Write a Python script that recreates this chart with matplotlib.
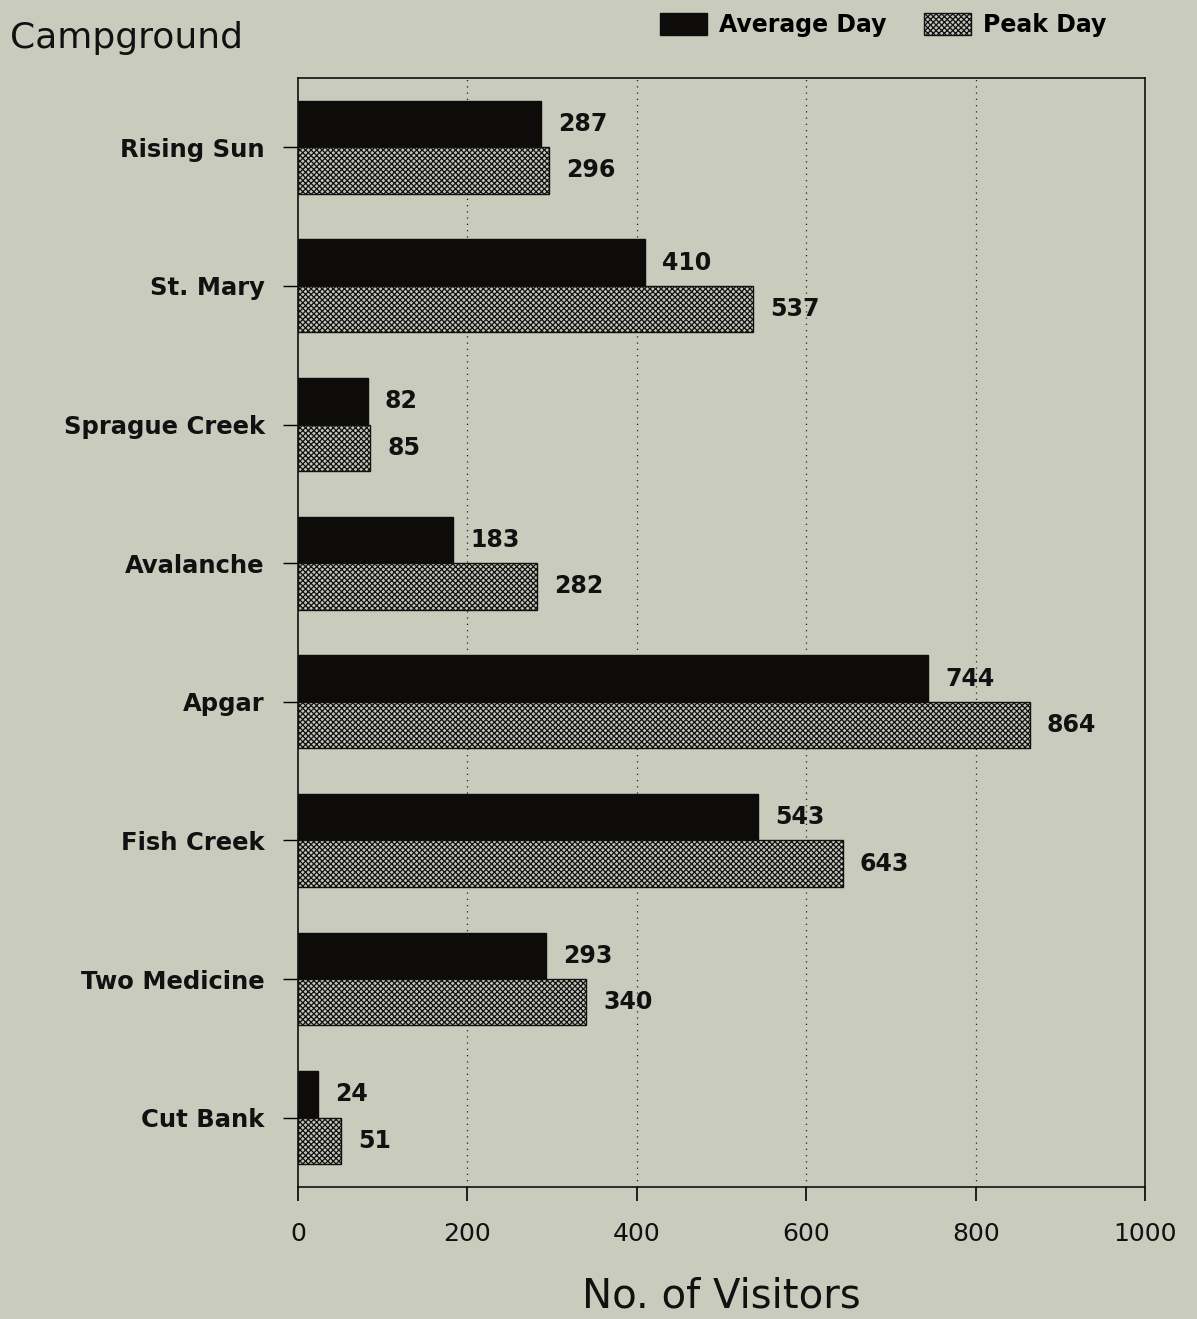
import numpy as np
import matplotlib
matplotlib.use('Agg')
import matplotlib.pyplot as plt
from matplotlib.patches import Patch

plt.rcParams['font.family'] = 'DejaVu Sans'
plt.rcParams['hatch.linewidth'] = 0.9

campgrounds = ['Rising Sun', 'St. Mary', 'Sprague Creek', 'Avalanche',
               'Apgar', 'Fish Creek', 'Two Medicine', 'Cut Bank']
average_day = [287, 410, 82, 183, 744, 543, 293, 24]
peak_day = [296, 537, 85, 282, 864, 643, 340, 51]

bg = '#c9cbbc'
fig = plt.figure(figsize=(11.97, 13.19), dpi=100, facecolor=bg)
ax = fig.add_axes([0.249, 0.1001, 0.7077, 0.8408], facecolor=bg)

y = np.arange(len(campgrounds))
h = 0.335
ax.barh(y - h / 2, average_day, height=h, color='#0d0c0a', edgecolor='#0d0c0a', lw=1)
ax.barh(y + h / 2, peak_day, height=h, color='#c4c4bc', edgecolor='#111111',
        hatch='xxxxxx', lw=1)

for i in range(len(campgrounds)):
    ax.text(average_day[i] + 20, y[i] - h / 2, str(average_day[i]), va='center', ha='left',
            fontsize=17, fontweight='bold', color='#111111')
    ax.text(peak_day[i] + 20, y[i] + h / 2, str(peak_day[i]), va='center', ha='left',
            fontsize=17, fontweight='bold', color='#111111')

ax.set_xlim(0, 1000)
ax.set_ylim(len(campgrounds) - 0.5, -0.5)
ax.set_yticks(y)
ax.set_yticklabels(campgrounds, fontsize=17.5, fontweight='bold', color='#111111')
ax.set_xticks([0, 200, 400, 600, 800, 1000])
ax.tick_params(axis='y', length=11, width=1, pad=13, direction='out')
ax.tick_params(axis='x', length=10, width=1.2, pad=15, direction='out', labelsize=18)
for t in ax.get_xticklabels():
    t.set_color('#111111')

for gx in [200, 400, 600, 800]:
    ax.axvline(gx, color='#222222', lw=0.9, ls=(0, (1, 4)), zorder=0)

for s in ax.spines.values():
    s.set_linewidth(1.2)
    s.set_color('#111111')

ax.set_xlabel('No. of Visitors', fontsize=29, labelpad=22, color='#111111')

fig.text(0.008, 0.971, 'Campground', fontsize=26, ha='left', va='center', color='#111111')

handles = [Patch(facecolor='#0d0c0a', edgecolor='#0d0c0a', label='Average Day'),
           Patch(facecolor='#c4c4bc', edgecolor='#111111', hatch='xxxxxx', label='Peak Day')]
fig.legend(handles=handles, loc='center right', bbox_to_anchor=(0.942, 0.981), ncol=2,
           frameon=False, prop={'size': 17, 'weight': 'bold'}, handlelength=2.0,
           handleheight=1.0, handletextpad=0.5, columnspacing=1.6)

fig.savefig('out.png', dpi=100, facecolor=bg)
